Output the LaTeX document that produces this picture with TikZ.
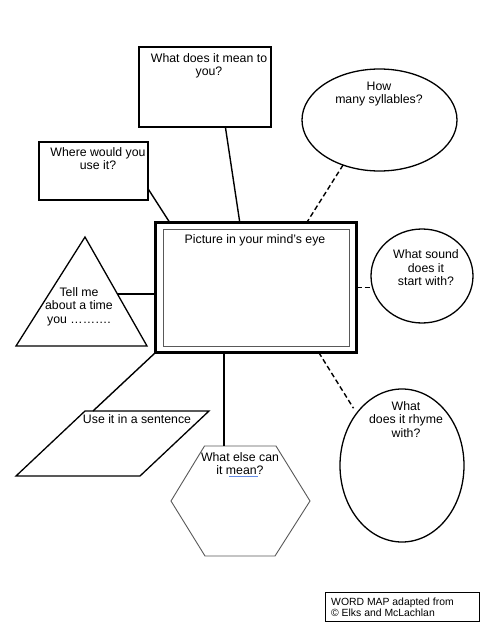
\documentclass[tikz,border=0pt]{standalone}
\usepackage{fontspec}
\setmainfont{Liberation Sans}
\usetikzlibrary{shapes.geometric}

\definecolor{spellblue}{RGB}{100,140,230}

\begin{document}
\begin{tikzpicture}[x=1pt, y=-1pt,
    box/.style={draw, line width=1.3pt, inner sep=0pt, outer sep=0pt},
    oval/.style={draw, ellipse, line width=1.3pt, inner sep=0pt, outer sep=0pt},
    txt/.style={anchor=north, align=center, inner sep=0pt, font=\fontsize{12.3}{13.5}\selectfont},
    link/.style={line width=1.4pt},
    dlink/.style={line width=1.4pt, dash pattern=on 5pt off 3pt}]
    \path[fill=white] (0,0) rectangle (486,632);

    % the boxes and ovals
    \node [box, minimum width=132, minimum height=80] (mean) at (205,87) {};
    \node [box, minimum width=109, minimum height=58] (where) at (93.5,171) {};
    \node [box, line width=3pt, minimum width=201, minimum height=130] (pic) at (256,287.5) {};
    \node [box, draw=black!65, line width=0.9pt, minimum width=186, minimum height=117] (inner) at (256,287.5) {};
    \node [oval, minimum width=155, minimum height=102] (syll) at (379.5,120) {};
    \node [oval, minimum width=102, minimum height=94] (sound) at (422,276) {};
    \node [oval, minimum width=124, minimum height=153] (rhyme) at (402,465.5) {};
    \node [box, line width=1pt, minimum width=154, minimum height=29] (credit) at (402,606.5) {};

    % shapes drawn directly
    \draw[line width=1.3pt] (85,237) -- (147,346) -- (16,346) -- cycle;
    \draw[line width=1.3pt] (85,411) -- (209,411) -- (140,476) -- (16,476) -- cycle;
    \draw[black!65, line width=0.9pt] (204.5,446) -- (276,446) -- (310,501) -- (275,556) -- (205,556) -- (171,501) -- cycle;
    \coordinate (tri) at (117,294);
    \coordinate (par) at (93,411);
    \coordinate (hex) at (224,446);

    % connectors
    \draw[link] (mean.-63) -- (pic.104);
    \draw[link] (where.-18) -- (pic.143);
    \draw[dlink] (syll.-129) -- (pic.52);
    \draw[link] (tri) -- (tri -| pic.west);
    \draw[dlink] (pic.east) -- (pic.east -| sound.west);
    \draw[link] (pic.south west) -- (par);
    \draw[link] (hex |- pic.south) -- (hex);
    \draw[dlink, shorten >=6pt] (pic.-46) -- (rhyme.131);

    % texts
    \node [txt] (meantext) at (209,52.9) {What does it mean to\\you?};
    \node [txt] (whereText) at (98,147.3) {Where would you\\use it?};
    \node [txt] (picText) at (255,234) {Picture in your mind’s eye};
    \node [txt] (syllText) at (379,81.7) {How\\many syllables?};
    \node [txt] (soundText) at (426,249.5) {What sound\\does it\\start with?};
    \node [txt] (triText) at (79,287) {Tell me\\about a time\\you ……….};
    \node [txt] (parText) at (137,414) {Use it in a sentence};
    \node [txt] (hexText) at (240,452) {What else can\\it mean?};
    \draw[spellblue, line width=1pt] (228.5,476) -- (257.5,476);
    \node [txt] (rhymeText) at (406,401) {What\\does it rhyme\\with?};
    \node [anchor=north west, align=left, inner sep=0pt, font=\fontsize{10.4}{10.8}\selectfont] (creditText) at (331,597.5) {WORD MAP adapted from\\© Elks and McLachlan};
  \end{tikzpicture}
\end{document}
